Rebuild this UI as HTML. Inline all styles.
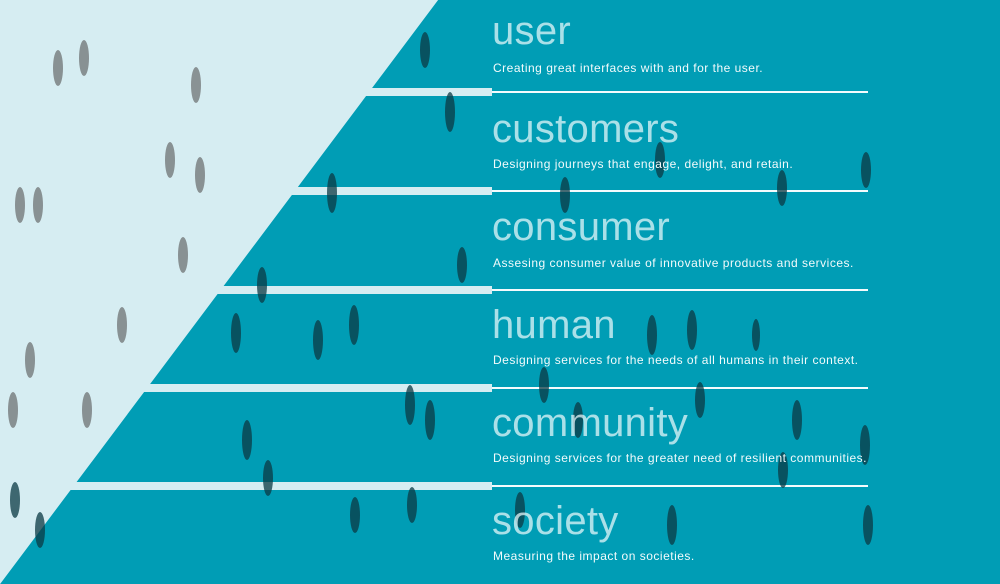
<!DOCTYPE html>
<html><head><meta charset="utf-8"><style>
html,body{margin:0;padding:0}
body{width:1000px;height:584px;overflow:hidden;background:#d6edf2;position:relative;font-family:"Liberation Sans",sans-serif}
svg{position:absolute;left:0;top:0}
.t{position:absolute;left:492px;color:rgba(235,250,252,0.72);font-size:40px;font-weight:300;letter-spacing:0.3px;line-height:1}
.s{position:absolute;left:493px;color:#f2fbfc;font-size:12px;letter-spacing:0.5px;line-height:1}
</style></head><body>
<svg width="1000" height="584" viewBox="0 0 1000 584">
<polygon points="438,0 1000,0 1000,584 0,584" fill="#009db5"/>
<g fill="#d6edf2">
<rect x="300" y="88" width="192" height="8"/>
<rect x="220" y="187" width="272" height="8"/>
<rect x="150" y="286" width="342" height="8"/>
<rect x="75" y="384" width="417" height="8"/>
<rect x="0" y="482" width="492" height="8"/>
</g>
<polygon points="438,0 0,0 0,584" fill="#d6edf2"/>
<g fill="#f4fbfd">
<rect x="492" y="91" width="376" height="2"/>
<rect x="492" y="190" width="376" height="2"/>
<rect x="492" y="289" width="376" height="2"/>
<rect x="492" y="387" width="376" height="2"/>
<rect x="492" y="485" width="376" height="2"/>
</g>
<g fill="#0b3a44" opacity="0.75">
<ellipse cx="425" cy="50" rx="5" ry="18"/><ellipse cx="450" cy="112" rx="5" ry="20"/>
<ellipse cx="332" cy="193" rx="5" ry="20"/><ellipse cx="462" cy="265" rx="5" ry="18"/>
<ellipse cx="262" cy="285" rx="5" ry="18"/><ellipse cx="236" cy="333" rx="5" ry="20"/>
<ellipse cx="318" cy="340" rx="5" ry="20"/><ellipse cx="354" cy="325" rx="5" ry="20"/>
<ellipse cx="410" cy="405" rx="5" ry="20"/><ellipse cx="430" cy="420" rx="5" ry="20"/>
<ellipse cx="247" cy="440" rx="5" ry="20"/><ellipse cx="268" cy="478" rx="5" ry="18"/>
<ellipse cx="355" cy="515" rx="5" ry="18"/><ellipse cx="412" cy="505" rx="5" ry="18"/>
<ellipse cx="40" cy="530" rx="5" ry="18"/><ellipse cx="15" cy="500" rx="5" ry="18"/>
<ellipse cx="660" cy="160" rx="5" ry="18"/><ellipse cx="866" cy="170" rx="5" ry="18"/>
<ellipse cx="782" cy="188" rx="5" ry="18"/><ellipse cx="565" cy="195" rx="5" ry="18"/>
<ellipse cx="652" cy="335" rx="5" ry="20"/><ellipse cx="692" cy="330" rx="5" ry="20"/>
<ellipse cx="756" cy="335" rx="4" ry="16"/><ellipse cx="544" cy="385" rx="5" ry="18"/>
<ellipse cx="578" cy="420" rx="5" ry="18"/><ellipse cx="700" cy="400" rx="5" ry="18"/>
<ellipse cx="797" cy="420" rx="5" ry="20"/><ellipse cx="865" cy="445" rx="5" ry="20"/>
<ellipse cx="783" cy="470" rx="5" ry="18"/><ellipse cx="672" cy="525" rx="5" ry="20"/>
<ellipse cx="868" cy="525" rx="5" ry="20"/><ellipse cx="520" cy="510" rx="5" ry="18"/>
</g>
<g fill="#555" opacity="0.6">
<ellipse cx="58" cy="68" rx="5" ry="18"/><ellipse cx="84" cy="58" rx="5" ry="18"/>
<ellipse cx="196" cy="85" rx="5" ry="18"/><ellipse cx="170" cy="160" rx="5" ry="18"/>
<ellipse cx="200" cy="175" rx="5" ry="18"/><ellipse cx="20" cy="205" rx="5" ry="18"/>
<ellipse cx="38" cy="205" rx="5" ry="18"/><ellipse cx="183" cy="255" rx="5" ry="18"/>
<ellipse cx="122" cy="325" rx="5" ry="18"/><ellipse cx="30" cy="360" rx="5" ry="18"/>
<ellipse cx="13" cy="410" rx="5" ry="18"/><ellipse cx="87" cy="410" rx="5" ry="18"/>
</g>
</svg>
<div class="t" style="top:11px">user</div>
<div class="s" style="top:62px">Creating great interfaces with and for the user.</div>
<div class="t" style="top:109px">customers</div>
<div class="s" style="top:158px">Designing journeys that engage, delight, and retain.</div>
<div class="t" style="top:207px">consumer</div>
<div class="s" style="top:257px">Assesing consumer value of innovative products and services.</div>
<div class="t" style="top:305px">human</div>
<div class="s" style="top:354px">Designing services for the needs of all humans in their context.</div>
<div class="t" style="top:403px">community</div>
<div class="s" style="top:452px">Designing services for the greater need of resilient communities.</div>
<div class="t" style="top:501px">society</div>
<div class="s" style="top:550px">Measuring the impact on societies.</div>
</body></html>
